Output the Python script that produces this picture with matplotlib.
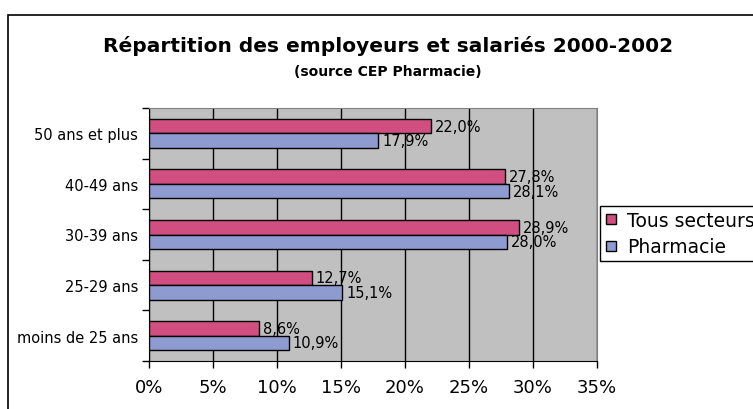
import matplotlib
matplotlib.use("Agg")
import matplotlib.pyplot as plt
from matplotlib.patches import Rectangle
from matplotlib.lines import Line2D
import numpy as np

plt.rcParams['font.family'] = ['DejaVu Sans']

categories = ["moins de 25 ans", "25-29 ans", "30-39 ans", "40-49 ans", "50 ans et plus"]
tous_secteurs = [8.6, 12.7, 28.9, 27.8, 22.0]
pharmacie = [10.9, 15.1, 28.0, 28.1, 17.9]
series_names = ["Tous secteurs", "Pharmacie"]
xticks = [0, 5, 10, 15, 20, 25, 30, 35]

c_pink = "#D04F80"
c_blue = "#8E9BD0"

W, H = 753, 410
fig = plt.figure(figsize=(W / 100, H / 100), dpi=100)

# outer chart border (top and left visible)
fig.patches.append(Rectangle((8 / W, -0.2), 2.0, 1.2 - 16 / H, transform=fig.transFigure,
                             fill=False, edgecolor="black", linewidth=1.2))

ax = fig.add_axes([149 / W, (H - 362) / H, 448 / W, 253 / H])
ax.set_facecolor("#C0C0C0")

y = np.arange(len(categories))
bh = 0.287
ax.barh(y + bh / 2, tous_secteurs, height=bh, color=c_pink, edgecolor="black", linewidth=1, zorder=3)
ax.barh(y - bh / 2, pharmacie, height=bh, color=c_blue, edgecolor="black", linewidth=1, zorder=3)

for yi, v in zip(y, tous_secteurs):
    ax.text(v + 0.3, yi + bh / 2, f"{v:.1f}%".replace(".", ","), va="center", ha="left",
            fontsize=10.5, zorder=4)
for yi, v in zip(y, pharmacie):
    ax.text(v + 0.3, yi - bh / 2, f"{v:.1f}%".replace(".", ","), va="center", ha="left",
            fontsize=10.5, zorder=4)

ax.set_xlim(0, 35)
ax.set_ylim(-0.5, len(categories) - 0.5)
ax.set_xticks(xticks)
ax.set_xticklabels([f"{t}%" for t in xticks], fontsize=13)
ax.set_yticks(np.arange(len(categories) + 1) - 0.5)
ax.set_yticklabels([])
ax.set_yticks(y, minor=True)
ax.set_yticklabels(categories, minor=True, fontsize=10.5)
ax.tick_params(axis="y", which="minor", length=0, pad=8)
ax.tick_params(axis="y", which="major", length=5, width=1, direction="out")
ax.tick_params(axis="x", length=5, width=1, direction="out", pad=7)
ax.grid(axis="x", color="black", linewidth=1, zorder=1)
for side in ["top", "right"]:
    ax.spines[side].set_color("#808080")
for side in ["left", "bottom"]:
    ax.spines[side].set_color("black")

fig.text(388 / W, 1 - 46 / H, "Répartition des employeurs et salariés 2000-2002",
         ha="center", va="center", fontsize=14.5, fontweight="bold")
fig.text(388 / W, 1 - 72 / H, "(source CEP Pharmacie)",
         ha="center", va="center", fontsize=10, fontweight="bold")

handles = [Line2D([], [], marker="s", linestyle="none", markersize=7, markerfacecolor=c,
                  markeredgecolor="black", markeredgewidth=1) for c in (c_pink, c_blue)]
leg = fig.legend(handles, series_names, loc="upper left", bbox_to_anchor=(600 / W, 1 - 207 / H),
                 fontsize=13.5, frameon=True, fancybox=False, edgecolor="black", framealpha=1,
                 handlelength=0.7, handletextpad=0.5, borderpad=0.25, labelspacing=0.4,
                 borderaxespad=0)
leg.get_frame().set_linewidth(1)

fig.savefig("out.png", dpi=100)
